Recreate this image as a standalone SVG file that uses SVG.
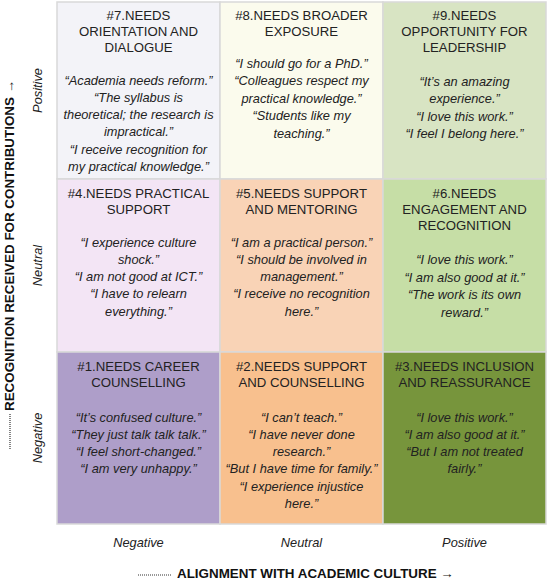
<svg xmlns="http://www.w3.org/2000/svg" width="547" height="582" viewBox="0 0 547 582">
<style>
.cell{stroke:#d9d9d9;stroke-width:1.5}
.t{font-family:"Liberation Sans",Arial,sans-serif;font-size:13.2px;fill:#222;text-anchor:middle}
.q{font-family:"Liberation Sans",Arial,sans-serif;font-size:12.8px;font-style:italic;fill:#222;text-anchor:middle}
.ax{font-family:"Liberation Sans",Arial,sans-serif;font-size:12.8px;font-style:italic;fill:#222;text-anchor:middle}
.axb{font-family:"Liberation Sans",Arial,sans-serif;font-size:13.4px;font-weight:bold;fill:#111}
.dots{stroke:#333;stroke-width:1.2;stroke-dasharray:1 1}
</style>
<rect width="547" height="582" fill="#ffffff"/>

<g id="cell7">
<rect class="cell" x="57" y="2" width="163" height="177" fill="#f3f3f8"/>
<text class="t" x="138.5" y="20"><tspan x="138.5">#7.NEEDS</tspan><tspan x="138.5" dy="16">ORIENTATION AND</tspan><tspan x="138.5" dy="16">DIALOGUE</tspan></text>
<text class="q" x="138.5" y="84.5"><tspan x="138.5">“Academia needs reform.”</tspan><tspan x="138.5" dy="17.3">“The syllabus is</tspan><tspan x="138.5" dy="17.3">theoretical; the research is</tspan><tspan x="138.5" dy="17.3">impractical.”</tspan><tspan x="138.5" dy="17.3">“I receive recognition for</tspan><tspan x="138.5" dy="17.3">my practical knowledge.”</tspan></text>
</g>

<g id="cell8">
<rect class="cell" x="220" y="2" width="163" height="177" fill="#fbfbed"/>
<text class="t" x="301.5" y="20"><tspan x="301.5">#8.NEEDS BROADER</tspan><tspan x="301.5" dy="16">EXPOSURE</tspan></text>
<text class="q" x="301.5" y="67.5"><tspan x="301.5">“I should go for a PhD.”</tspan><tspan x="301.5" dy="17.6">“Colleagues respect my</tspan><tspan x="301.5" dy="17.6">practical knowledge.”</tspan><tspan x="301.5" dy="17.6">“Students like my</tspan><tspan x="301.5" dy="17.6">teaching.”</tspan></text>
</g>

<g id="cell9">
<rect class="cell" x="383" y="2" width="163" height="177" fill="#d8e4c3"/>
<text class="t" x="464.5" y="20"><tspan x="464.5">#9.NEEDS</tspan><tspan x="464.5" dy="16">OPPORTUNITY FOR</tspan><tspan x="464.5" dy="16">LEADERSHIP</tspan></text>
<text class="q" x="464.5" y="85.5"><tspan x="464.5">“It’s an amazing</tspan><tspan x="464.5" dy="17.5">experience.”</tspan><tspan x="464.5" dy="17.5">“I love this work.”</tspan><tspan x="464.5" dy="17.5">“I feel I belong here.”</tspan></text>
</g>

<g id="cell4">
<rect class="cell" x="57" y="179" width="163" height="173" fill="#f3e5f5"/>
<text class="t" x="138.5" y="197.5"><tspan x="138.5">#4.NEEDS PRACTICAL</tspan><tspan x="138.5" dy="16">SUPPORT</tspan></text>
<text class="q" x="138.5" y="246.5"><tspan x="138.5">“I experience culture</tspan><tspan x="138.5" dy="17.3">shock.”</tspan><tspan x="138.5" dy="17.3">“I am not good at ICT.”</tspan><tspan x="138.5" dy="17.3">“I have to relearn</tspan><tspan x="138.5" dy="17.3">everything.”</tspan></text>
</g>

<g id="cell5">
<rect class="cell" x="220" y="179" width="163" height="173" fill="#f9d3b6"/>
<text class="t" x="301.5" y="197.5"><tspan x="301.5">#5.NEEDS SUPPORT</tspan><tspan x="301.5" dy="16">AND MENTORING</tspan></text>
<text class="q" x="301.5" y="246.5"><tspan x="301.5">“I am a practical person.”</tspan><tspan x="301.5" dy="17.3">“I should be involved in</tspan><tspan x="301.5" dy="17.3">management.”</tspan><tspan x="301.5" dy="17.3">“I receive no recognition</tspan><tspan x="301.5" dy="17.3">here.”</tspan></text>
</g>

<g id="cell6">
<rect class="cell" x="383" y="179" width="163" height="173" fill="#c6dea6"/>
<text class="t" x="464.5" y="197.5"><tspan x="464.5">#6.NEEDS</tspan><tspan x="464.5" dy="16">ENGAGEMENT AND</tspan><tspan x="464.5" dy="16">RECOGNITION</tspan></text>
<text class="q" x="464.5" y="264"><tspan x="464.5">“I love this work.”</tspan><tspan x="464.5" dy="17.5">“I am also good at it.”</tspan><tspan x="464.5" dy="17.5">“The work is its own</tspan><tspan x="464.5" dy="17.5">reward.”</tspan></text>
</g>

<g id="cell1">
<rect class="cell" x="57" y="352" width="163" height="172" fill="#ae9ec9"/>
<text class="t" x="138.5" y="371"><tspan x="138.5">#1.NEEDS CAREER</tspan><tspan x="138.5" dy="16">COUNSELLING</tspan></text>
<text class="q" x="138.5" y="421.5"><tspan x="138.5">“It’s confused culture.”</tspan><tspan x="138.5" dy="17.3">“They just talk talk talk.”</tspan><tspan x="138.5" dy="17.3">“I feel short-changed.”</tspan><tspan x="138.5" dy="17.3">“I am very unhappy.”</tspan></text>
</g>

<g id="cell2">
<rect class="cell" x="220" y="352" width="163" height="172" fill="#f8c08e"/>
<text class="t" x="301.5" y="371"><tspan x="301.5">#2.NEEDS SUPPORT</tspan><tspan x="301.5" dy="16">AND COUNSELLING</tspan></text>
<text class="q" x="301.5" y="421.5"><tspan x="301.5">“I can’t teach.”</tspan><tspan x="301.5" dy="17.3">“I have never done</tspan><tspan x="301.5" dy="17.3">research.”</tspan><tspan x="301.5" dy="17.3">“But I have time for family.”</tspan><tspan x="301.5" dy="17.3">“I experience injustice</tspan><tspan x="301.5" dy="17.3">here.”</tspan></text>
</g>

<g id="cell3">
<rect class="cell" x="383" y="352" width="163" height="172" fill="#77953c"/>
<text class="t" x="464.5" y="371"><tspan x="464.5">#3.NEEDS INCLUSION</tspan><tspan x="464.5" dy="16">AND REASSURANCE</tspan></text>
<text class="q" x="464.5" y="421.5"><tspan x="464.5">“I love this work.”</tspan><tspan x="464.5" dy="17.3">“I am also good at it.”</tspan><tspan x="464.5" dy="17.3">“But I am not treated</tspan><tspan x="464.5" dy="17.3">fairly.”</tspan></text>
</g>

<g id="axis-y">
<text class="ax" transform="translate(42,90.5) rotate(-90)">Positive</text>
<text class="ax" transform="translate(42,265.5) rotate(-90)">Neutral</text>
<text class="ax" transform="translate(42,438) rotate(-90)">Negative</text>
<line class="dots" x1="10" y1="449" x2="10" y2="414"/>
<text class="axb" transform="translate(13.5,411) rotate(-90)">RECOGNITION RECEIVED FOR CONTRIBUTIONS <tspan font-weight="normal">→</tspan></text>
</g>

<g id="axis-x">
<text class="ax" x="138.5" y="547">Negative</text>
<text class="ax" x="301.5" y="547">Neutral</text>
<text class="ax" x="464.5" y="547">Positive</text>
<line class="dots" x1="138" y1="575" x2="172" y2="575"/>
<text class="axb" x="177" y="578">ALIGNMENT WITH ACADEMIC CULTURE <tspan font-weight="normal">→</tspan></text>
</g>
</svg>
